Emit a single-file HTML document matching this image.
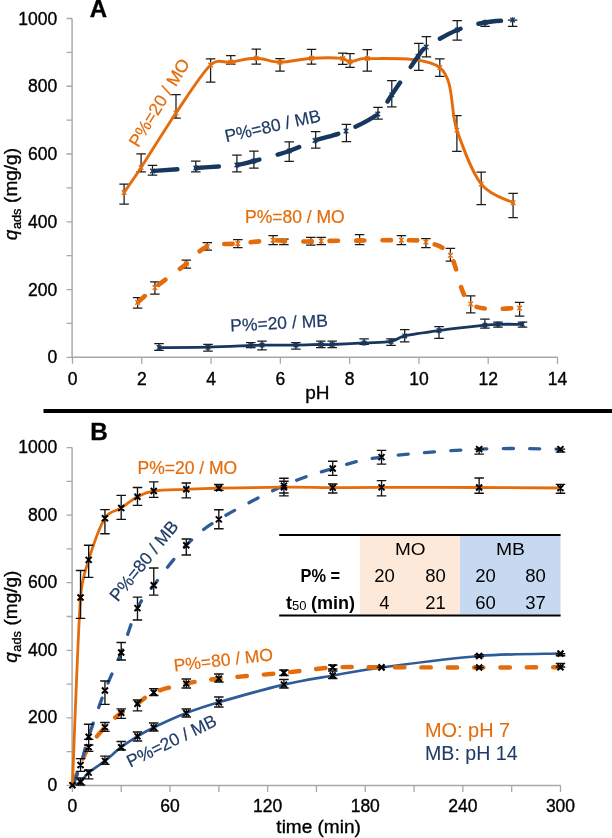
<!DOCTYPE html>
<html><head><meta charset="utf-8"><style>
html,body{margin:0;padding:0;background:#fff;width:612px;height:838px;overflow:hidden}
svg{display:block;will-change:transform}
text{font-family:"Liberation Sans", sans-serif}
</style></head><body>
<svg width="612" height="838" viewBox="0 0 612 838">
<rect width="612" height="838" fill="#fff"/>
<path d="M72.1,18.5V357.3H557.5" stroke="#A8A8A8" stroke-width="1.45" fill="none"/>
<path d="M66.6,357.30H72.1M66.6,323.42H72.1M66.6,289.54H72.1M66.6,255.66H72.1M66.6,221.78H72.1M66.6,187.90H72.1M66.6,154.02H72.1M66.6,120.14H72.1M66.6,86.26H72.1M66.6,52.38H72.1M66.6,18.50H72.1M72.50,357.3V363.8M141.79,357.3V363.8M211.07,357.3V363.8M280.36,357.3V363.8M349.64,357.3V363.8M418.93,357.3V363.8M488.21,357.3V363.8M557.50,357.3V363.8" stroke="#A8A8A8" stroke-width="1.3" fill="none"/>
<text x="57.30" y="363.40" font-size="17.50" fill="#000" stroke="#000" stroke-width="0.35" text-anchor="end" font-weight="normal">0</text>
<text x="57.30" y="295.64" font-size="17.50" fill="#000" stroke="#000" stroke-width="0.35" text-anchor="end" font-weight="normal">200</text>
<text x="57.30" y="227.88" font-size="17.50" fill="#000" stroke="#000" stroke-width="0.35" text-anchor="end" font-weight="normal">400</text>
<text x="57.30" y="160.12" font-size="17.50" fill="#000" stroke="#000" stroke-width="0.35" text-anchor="end" font-weight="normal">600</text>
<text x="57.30" y="92.36" font-size="17.50" fill="#000" stroke="#000" stroke-width="0.35" text-anchor="end" font-weight="normal">800</text>
<text x="57.30" y="24.60" font-size="17.50" fill="#000" stroke="#000" stroke-width="0.35" text-anchor="end" font-weight="normal">1000</text>
<text x="72.50" y="384.50" font-size="17.50" fill="#000" stroke="#000" stroke-width="0.35" text-anchor="middle" font-weight="normal">0</text>
<text x="141.79" y="384.50" font-size="17.50" fill="#000" stroke="#000" stroke-width="0.35" text-anchor="middle" font-weight="normal">2</text>
<text x="211.07" y="384.50" font-size="17.50" fill="#000" stroke="#000" stroke-width="0.35" text-anchor="middle" font-weight="normal">4</text>
<text x="280.36" y="384.50" font-size="17.50" fill="#000" stroke="#000" stroke-width="0.35" text-anchor="middle" font-weight="normal">6</text>
<text x="349.64" y="384.50" font-size="17.50" fill="#000" stroke="#000" stroke-width="0.35" text-anchor="middle" font-weight="normal">8</text>
<text x="418.93" y="384.50" font-size="17.50" fill="#000" stroke="#000" stroke-width="0.35" text-anchor="middle" font-weight="normal">10</text>
<text x="488.21" y="384.50" font-size="17.50" fill="#000" stroke="#000" stroke-width="0.35" text-anchor="middle" font-weight="normal">12</text>
<text x="557.50" y="384.50" font-size="17.50" fill="#000" stroke="#000" stroke-width="0.35" text-anchor="middle" font-weight="normal">14</text>
<text x="317.30" y="399.30" font-size="19.00" fill="#000" stroke="#000" stroke-width="0.35" text-anchor="middle" font-weight="normal">pH</text>
<text x="98.40" y="16.80" font-size="24.00" fill="#000" stroke="#000" stroke-width="0.35" text-anchor="middle" font-weight="bold">A</text>
<text transform="translate(17.1 240.2) rotate(-90)" font-size="19" fill="#000" stroke="#000" stroke-width="0.35"><tspan font-style="italic">q</tspan><tspan font-size="12.8" dy="3.5" dx="0.5">ads</tspan><tspan dy="-3.5" dx="0.3"> (mg/g)</tspan></text>
<path d="M124.10,184.00V204.00M119.35,184.00H128.85M119.35,204.00H128.85M141.10,153.90V171.90M136.35,153.90H145.85M136.35,171.90H145.85M176.00,94.50V118.00M171.25,94.50H180.75M171.25,118.00H180.75M210.60,58.80V82.20M205.85,58.80H215.35M205.85,82.20H215.35M230.80,55.70V64.00M226.05,55.70H235.55M226.05,64.00H235.55M256.30,49.20V64.10M251.55,49.20H261.05M251.55,64.10H261.05M280.00,58.60V71.00M275.25,58.60H284.75M275.25,71.00H284.75M311.50,49.40V64.20M306.75,49.40H316.25M306.75,64.20H316.25M342.70,53.10V64.30M337.95,53.10H347.45M337.95,64.30H347.45M350.00,53.50V67.30M345.25,53.50H354.75M345.25,67.30H354.75M367.30,49.60V71.20M362.55,49.60H372.05M362.55,71.20H372.05M439.80,58.80V76.30M435.05,58.80H444.55M435.05,76.30H444.55M456.90,115.50V151.40M452.15,115.50H461.65M452.15,151.40H461.65M481.20,172.00V204.70M476.45,172.00H485.95M476.45,204.70H485.95M513.10,193.30V217.50M508.35,193.30H517.85M508.35,217.50H517.85M152.50,165.30V175.10M147.75,165.30H157.25M147.75,175.10H157.25M195.80,161.20V171.90M191.05,161.20H200.55M191.05,171.90H200.55M236.90,155.10V171.80M232.15,155.10H241.65M232.15,171.80H241.65M253.90,151.20V168.20M249.15,151.20H258.65M249.15,168.20H258.65M289.20,141.80V161.40M284.45,141.80H293.95M284.45,161.40H293.95M315.70,131.60V148.00M310.95,131.60H320.45M310.95,148.00H320.45M346.40,124.30V141.60M341.65,124.30H351.15M341.65,141.60H351.15M378.00,107.30V119.00M373.25,107.30H382.75M373.25,119.00H382.75M391.80,80.60V106.90M387.05,80.60H396.55M387.05,106.90H396.55M418.80,43.40V70.30M414.05,43.40H423.55M414.05,70.30H423.55M426.40,36.60V56.90M421.65,36.60H431.15M421.65,56.90H431.15M457.20,20.60V40.00M452.45,20.60H461.95M452.45,40.00H461.95M485.10,22.50V26.30M480.35,22.50H489.85M480.35,26.30H489.85M512.60,20.10V26.30M507.85,20.10H517.35M507.85,26.30H517.35M137.60,297.50V308.20M132.85,297.50H142.35M132.85,308.20H142.35M154.90,281.80V294.10M150.15,281.80H159.65M150.15,294.10H159.65M186.30,260.20V268.00M181.55,260.20H191.05M181.55,268.00H191.05M207.30,242.50V250.00M202.55,242.50H212.05M202.55,250.00H212.05M237.80,239.60V247.50M233.05,239.60H242.55M233.05,247.50H242.55M273.10,235.70V244.50M268.35,235.70H277.85M268.35,244.50H277.85M283.90,239.00V244.50M279.15,239.00H288.65M279.15,244.50H288.65M310.80,237.30V245.10M306.05,237.30H315.55M306.05,245.10H315.55M321.20,237.30V244.50M316.45,237.30H325.95M316.45,244.50H325.95M359.60,234.70V244.50M354.85,234.70H364.35M354.85,244.50H364.35M401.40,235.70V244.50M396.65,235.70H406.15M396.65,244.50H406.15M425.90,238.60V247.50M421.15,238.60H430.65M421.15,247.50H430.65M450.40,248.40V261.20M445.65,248.40H455.15M445.65,261.20H455.15M470.70,295.80V312.90M465.95,295.80H475.45M465.95,312.90H475.45M519.60,302.30V316.20M514.85,302.30H524.35M514.85,316.20H524.35M159.00,343.60V350.40M154.25,343.60H163.75M154.25,350.40H163.75M208.00,344.40V351.20M203.25,344.40H212.75M203.25,351.20H212.75M250.80,342.50V347.50M246.05,342.50H255.55M246.05,347.50H255.55M262.00,341.20V349.80M257.25,341.20H266.75M257.25,349.80H266.75M295.90,342.50V349.00M291.15,342.50H300.65M291.15,349.00H300.65M320.80,341.20V347.50M316.05,341.20H325.55M316.05,347.50H325.55M332.20,341.20V347.50M327.45,341.20H336.95M327.45,347.50H336.95M364.10,338.80V344.30M359.35,338.80H368.85M359.35,344.30H368.85M391.00,338.80V345.30M386.25,338.80H395.75M386.25,345.30H395.75M404.70,329.60V341.80M399.95,329.60H409.45M399.95,341.80H409.45M439.00,326.70V338.40M434.25,326.70H443.75M434.25,338.40H443.75M484.90,319.00V328.10M480.15,319.00H489.65M480.15,328.10H489.65M498.00,322.00V327.00M493.25,322.00H502.75M493.25,327.00H502.75M522.50,322.00V327.00M517.75,322.00H527.25M517.75,327.00H527.25" stroke="#1a1a1a" stroke-width="1.25" fill="none"/>
<path d="M159.00,347.60 C167.17,347.53 192.70,347.55 208.00,347.20 C223.30,346.85 241.80,345.85 250.80,345.50 C256.40,345.28 256.40,345.15 262.00,345.10 C269.52,345.03 286.10,345.20 295.90,345.10 C305.70,345.00 314.75,344.60 320.80,344.50 C326.50,344.41 326.50,344.71 332.20,344.50 C339.42,344.23 354.30,343.42 364.10,342.90 C373.90,342.38 384.23,342.57 391.00,341.40 C397.77,340.23 397.50,337.52 404.70,335.90 C412.70,334.10 425.63,332.38 439.00,330.60 C452.37,328.82 475.07,326.25 484.90,325.20 C491.43,324.50 491.73,324.45 498.00,324.30 C504.27,324.15 518.42,324.30 522.50,324.30" stroke="#17375E" stroke-width="2.80" fill="none" stroke-linejoin="round" stroke-linecap="round"/>
<path d="M137.60,302.40 C140.48,299.93 146.78,294.00 154.90,287.60 C163.02,281.20 177.57,270.85 186.30,264.00 C195.03,257.15 198.72,249.92 207.30,246.50 C215.88,243.08 226.83,244.55 237.80,243.50 C248.77,242.45 265.42,240.62 273.10,240.20 C278.51,239.91 278.49,240.81 283.90,241.00 C290.18,241.22 304.58,241.50 310.80,241.50 C316.01,241.50 315.99,241.10 321.20,241.00 C329.33,240.85 346.23,240.73 359.60,240.60 C372.97,240.47 390.35,239.97 401.40,240.20 C412.45,240.43 417.73,239.48 425.90,242.00 C434.07,244.52 442.93,244.98 450.40,255.30 C457.87,265.62 459.17,295.12 470.70,303.90 C482.23,312.68 511.45,307.32 519.60,308.00" stroke="#E46C0A" stroke-width="4.60" fill="none" stroke-linejoin="round" stroke-dasharray="8.4 18" stroke-dashoffset="-1.20" stroke-linecap="round"/>
<path d="M124.10,192.50 C126.93,188.33 132.84,180.16 141.10,167.50 C149.75,154.25 164.42,130.08 176.00,113.00 C187.58,95.92 201.47,73.50 210.60,65.00 C218.07,58.04 223.18,63.13 230.80,62.00 C238.42,60.87 248.10,58.17 256.30,58.20 C264.50,58.23 270.80,62.18 280.00,62.20 C289.20,62.22 301.05,58.93 311.50,58.30 C321.95,57.67 336.28,57.82 342.70,58.40 C346.71,58.76 345.97,61.80 350.00,61.80 C354.10,61.80 358.50,57.83 367.30,58.40 C382.27,59.37 424.87,55.63 439.80,67.60 C454.73,79.57 450.00,110.78 456.90,130.20 C463.80,149.62 471.83,172.02 481.20,184.10 C490.57,196.18 507.78,199.60 513.10,202.70" stroke="#E46C0A" stroke-width="2.90" fill="none" stroke-linejoin="round" stroke-linecap="round"/>
<path d="M152.50,171.00 C159.72,170.50 181.73,169.00 195.80,168.00 C209.87,167.00 227.22,166.17 236.90,165.00 C245.57,163.96 245.46,163.26 253.90,161.00 C262.62,158.67 279.02,154.42 289.20,151.00 C299.38,147.58 305.53,143.83 315.00,140.50 C324.47,137.17 335.53,135.42 346.00,131.00 C356.47,126.58 370.17,120.05 377.80,114.00 C385.43,107.95 385.10,104.30 391.80,94.70 C398.50,85.10 412.27,64.33 418.00,56.40 C421.63,51.38 421.06,50.56 426.20,47.10 C432.73,42.70 447.38,34.10 457.20,30.00 C467.02,25.90 475.87,24.15 485.10,22.50 C494.33,20.85 508.02,20.50 512.60,20.10" stroke="#17375E" stroke-width="4.40" fill="none" stroke-linejoin="round" stroke-dasharray="22.8 18.7" stroke-dashoffset="-2.20" stroke-linecap="round"/>
<path d="M121.80,190.20L126.40,194.80M121.80,194.80L126.40,190.20M124.10,189.60V195.40M138.80,165.20L143.40,169.80M138.80,169.80L143.40,165.20M141.10,164.60V170.40M173.70,110.70L178.30,115.30M173.70,115.30L178.30,110.70M176.00,110.10V115.90M208.30,62.70L212.90,67.30M208.30,67.30L212.90,62.70M210.60,62.10V67.90M228.50,59.70L233.10,64.30M228.50,64.30L233.10,59.70M230.80,59.10V64.90M254.00,55.90L258.60,60.50M254.00,60.50L258.60,55.90M256.30,55.30V61.10M277.70,59.90L282.30,64.50M277.70,64.50L282.30,59.90M280.00,59.30V65.10M309.20,56.00L313.80,60.60M309.20,60.60L313.80,56.00M311.50,55.40V61.20M340.40,56.10L345.00,60.70M340.40,60.70L345.00,56.10M342.70,55.50V61.30M347.70,59.50L352.30,64.10M347.70,64.10L352.30,59.50M350.00,58.90V64.70M365.00,56.10L369.60,60.70M365.00,60.70L369.60,56.10M367.30,55.50V61.30M437.50,65.30L442.10,69.90M437.50,69.90L442.10,65.30M439.80,64.70V70.50M454.60,127.90L459.20,132.50M454.60,132.50L459.20,127.90M456.90,127.30V133.10M478.90,181.80L483.50,186.40M478.90,186.40L483.50,181.80M481.20,181.20V187.00M510.80,200.40L515.40,205.00M510.80,205.00L515.40,200.40M513.10,199.80V205.60M135.30,300.10L139.90,304.70M135.30,304.70L139.90,300.10M137.60,299.50V305.30M152.60,285.30L157.20,289.90M152.60,289.90L157.20,285.30M154.90,284.70V290.50M184.00,261.70L188.60,266.30M184.00,266.30L188.60,261.70M186.30,261.10V266.90M205.00,244.20L209.60,248.80M205.00,248.80L209.60,244.20M207.30,243.60V249.40M235.50,241.20L240.10,245.80M235.50,245.80L240.10,241.20M237.80,240.60V246.40M270.80,237.90L275.40,242.50M270.80,242.50L275.40,237.90M273.10,237.30V243.10M281.60,238.70L286.20,243.30M281.60,243.30L286.20,238.70M283.90,238.10V243.90M308.50,239.20L313.10,243.80M308.50,243.80L313.10,239.20M310.80,238.60V244.40M318.90,238.70L323.50,243.30M318.90,243.30L323.50,238.70M321.20,238.10V243.90M357.30,238.30L361.90,242.90M357.30,242.90L361.90,238.30M359.60,237.70V243.50M399.10,237.90L403.70,242.50M399.10,242.50L403.70,237.90M401.40,237.30V243.10M423.60,239.70L428.20,244.30M423.60,244.30L428.20,239.70M425.90,239.10V244.90M448.10,253.00L452.70,257.60M448.10,257.60L452.70,253.00M450.40,252.40V258.20M468.40,301.60L473.00,306.20M468.40,306.20L473.00,301.60M470.70,301.00V306.80M517.30,305.70L521.90,310.30M517.30,310.30L521.90,305.70M519.60,305.10V310.90" stroke="#E46C0A" stroke-width="1.30" fill="none"/>
<path d="M150.20,168.70L154.80,173.30M150.20,173.30L154.80,168.70M152.50,168.10V173.90M193.50,165.70L198.10,170.30M193.50,170.30L198.10,165.70M195.80,165.10V170.90M234.60,162.70L239.20,167.30M234.60,167.30L239.20,162.70M236.90,162.10V167.90M251.60,158.70L256.20,163.30M251.60,163.30L256.20,158.70M253.90,158.10V163.90M286.90,148.70L291.50,153.30M286.90,153.30L291.50,148.70M289.20,148.10V153.90M312.70,138.20L317.30,142.80M312.70,142.80L317.30,138.20M315.00,137.60V143.40M343.70,128.70L348.30,133.30M343.70,133.30L348.30,128.70M346.00,128.10V133.90M375.50,111.70L380.10,116.30M375.50,116.30L380.10,111.70M377.80,111.10V116.90M389.50,92.40L394.10,97.00M389.50,97.00L394.10,92.40M391.80,91.80V97.60M415.70,54.10L420.30,58.70M415.70,58.70L420.30,54.10M418.00,53.50V59.30M423.90,44.80L428.50,49.40M423.90,49.40L428.50,44.80M426.20,44.20V50.00M454.90,27.70L459.50,32.30M454.90,32.30L459.50,27.70M457.20,27.10V32.90M482.80,20.20L487.40,24.80M482.80,24.80L487.40,20.20M485.10,19.60V25.40M510.30,17.80L514.90,22.40M510.30,22.40L514.90,17.80M512.60,17.20V23.00M156.70,345.30L161.30,349.90M156.70,349.90L161.30,345.30M159.00,344.70V350.50M205.70,344.90L210.30,349.50M205.70,349.50L210.30,344.90M208.00,344.30V350.10M248.50,343.20L253.10,347.80M248.50,347.80L253.10,343.20M250.80,342.60V348.40M259.70,342.80L264.30,347.40M259.70,347.40L264.30,342.80M262.00,342.20V348.00M293.60,342.80L298.20,347.40M293.60,347.40L298.20,342.80M295.90,342.20V348.00M318.50,342.20L323.10,346.80M318.50,346.80L323.10,342.20M320.80,341.60V347.40M329.90,342.20L334.50,346.80M329.90,346.80L334.50,342.20M332.20,341.60V347.40M361.80,340.60L366.40,345.20M361.80,345.20L366.40,340.60M364.10,340.00V345.80M388.70,339.10L393.30,343.70M388.70,343.70L393.30,339.10M391.00,338.50V344.30M402.40,333.60L407.00,338.20M402.40,338.20L407.00,333.60M404.70,333.00V338.80M436.70,328.30L441.30,332.90M436.70,332.90L441.30,328.30M439.00,327.70V333.50M482.60,322.90L487.20,327.50M482.60,327.50L487.20,322.90M484.90,322.30V328.10M495.70,322.00L500.30,326.60M495.70,326.60L500.30,322.00M498.00,321.40V327.20M520.20,322.00L524.80,326.60M520.20,326.60L524.80,322.00M522.50,321.40V327.20" stroke="#17375E" stroke-width="1.30" fill="none"/>
<text x="0.00" y="0.00" font-size="17.50" fill="#E46C0A" stroke="#E46C0A" stroke-width="0.20" text-anchor="start" font-weight="normal" transform="translate(138.2 148.3) rotate(-58.4)">P%=20 / MO</text>
<text x="0.00" y="0.00" font-size="17.50" fill="#1F3A66" stroke="#1F3A66" stroke-width="0.20" text-anchor="start" font-weight="normal" transform="translate(226.2 142.3) rotate(-12.5)">P%=80 / MB</text>
<text x="245.00" y="223.00" font-size="17.50" fill="#E46C0A" stroke="#E46C0A" stroke-width="0.20" text-anchor="start" font-weight="normal">P%=80 / MO</text>
<text x="0.00" y="0.00" font-size="17.50" fill="#1F3A66" stroke="#1F3A66" stroke-width="0.20" text-anchor="start" font-weight="normal" transform="translate(230.5 331.5) rotate(-3)">P%=20 / MB</text>
<rect x="43.5" y="409" width="569" height="4" fill="#000"/>
<path d="M72.1,447.6V785.4H560.5" stroke="#A8A8A8" stroke-width="1.45" fill="none"/>
<path d="M66.6,785.40H72.1M66.6,751.62H72.1M66.6,717.84H72.1M66.6,684.06H72.1M66.6,650.28H72.1M66.6,616.50H72.1M66.6,582.72H72.1M66.6,548.94H72.1M66.6,515.16H72.1M66.6,481.38H72.1M66.6,447.60H72.1M72.40,785.4V791.9M121.21,785.4V791.9M170.02,785.4V791.9M218.83,785.4V791.9M267.64,785.4V791.9M316.45,785.4V791.9M365.26,785.4V791.9M414.07,785.4V791.9M462.88,785.4V791.9M511.69,785.4V791.9M560.50,785.4V791.9" stroke="#A8A8A8" stroke-width="1.3" fill="none"/>
<text x="57.30" y="791.00" font-size="17.50" fill="#000" stroke="#000" stroke-width="0.35" text-anchor="end" font-weight="normal">0</text>
<text x="57.30" y="723.44" font-size="17.50" fill="#000" stroke="#000" stroke-width="0.35" text-anchor="end" font-weight="normal">200</text>
<text x="57.30" y="655.88" font-size="17.50" fill="#000" stroke="#000" stroke-width="0.35" text-anchor="end" font-weight="normal">400</text>
<text x="57.30" y="588.32" font-size="17.50" fill="#000" stroke="#000" stroke-width="0.35" text-anchor="end" font-weight="normal">600</text>
<text x="57.30" y="520.76" font-size="17.50" fill="#000" stroke="#000" stroke-width="0.35" text-anchor="end" font-weight="normal">800</text>
<text x="57.30" y="453.20" font-size="17.50" fill="#000" stroke="#000" stroke-width="0.35" text-anchor="end" font-weight="normal">1000</text>
<text x="72.40" y="811.50" font-size="17.50" fill="#000" stroke="#000" stroke-width="0.35" text-anchor="middle" font-weight="normal">0</text>
<text x="170.02" y="811.50" font-size="17.50" fill="#000" stroke="#000" stroke-width="0.35" text-anchor="middle" font-weight="normal">60</text>
<text x="267.64" y="811.50" font-size="17.50" fill="#000" stroke="#000" stroke-width="0.35" text-anchor="middle" font-weight="normal">120</text>
<text x="365.26" y="811.50" font-size="17.50" fill="#000" stroke="#000" stroke-width="0.35" text-anchor="middle" font-weight="normal">180</text>
<text x="462.88" y="811.50" font-size="17.50" fill="#000" stroke="#000" stroke-width="0.35" text-anchor="middle" font-weight="normal">240</text>
<text x="560.50" y="811.50" font-size="17.50" fill="#000" stroke="#000" stroke-width="0.35" text-anchor="middle" font-weight="normal">300</text>
<text x="318.60" y="833.30" font-size="19.00" fill="#000" stroke="#000" stroke-width="0.35" text-anchor="middle" font-weight="normal">time (min)</text>
<text x="99.10" y="440.20" font-size="24.30" fill="#000" stroke="#000" stroke-width="0.35" text-anchor="middle" font-weight="bold">B</text>
<text transform="translate(17.0 662.8) rotate(-90)" font-size="19" fill="#000" stroke="#000" stroke-width="0.35"><tspan font-style="italic">q</tspan><tspan font-size="12.8" dy="3.5" dx="0.5">ads</tspan><tspan dy="-3.5" dx="0.3"> (mg/g)</tspan></text>
<path d="M72.40,785.30 C73.76,784.72 77.82,783.92 80.54,781.80 C83.25,779.68 84.60,776.08 88.67,772.60 C92.74,769.12 99.52,765.13 104.94,760.90 C110.36,756.67 115.79,751.28 121.21,747.20 C126.63,743.12 132.06,739.68 137.48,736.40 C142.90,733.12 145.62,731.38 153.75,727.50 C161.88,723.62 175.44,717.30 186.29,713.10 C197.14,708.90 202.56,707.05 218.83,702.30 C235.10,697.55 264.93,689.07 283.91,684.60 C302.89,680.13 316.45,678.35 332.72,675.50 C348.99,672.65 357.12,670.75 381.53,667.50 C405.93,664.25 449.32,658.33 479.15,656.00 C508.98,653.67 546.94,653.92 560.50,653.50" stroke="#2F5C98" stroke-width="2.70" fill="none" stroke-linejoin="round" stroke-linecap="round"/>
<path d="M72.40,785.30 C73.76,781.92 77.82,771.35 80.54,765.00 C83.25,758.65 84.60,753.48 88.67,747.20 C92.74,740.92 99.52,733.03 104.94,727.30 C110.36,721.57 115.79,716.73 121.21,712.80 C126.63,708.87 132.06,707.08 137.48,703.70 C142.90,700.32 145.62,695.85 153.75,692.50 C161.88,689.15 175.44,685.92 186.29,683.60 C197.14,681.28 202.56,680.40 218.83,678.60 C235.10,676.80 264.93,674.65 283.91,672.80 C302.89,670.95 316.45,668.42 332.72,667.50 C348.99,666.58 357.12,667.30 381.53,667.30 C405.93,667.30 449.32,667.52 479.15,667.50 C508.98,667.48 546.94,667.25 560.50,667.20" stroke="#E46C0A" stroke-width="4.40" fill="none" stroke-linejoin="round" stroke-dasharray="9.4 16.93" stroke-dashoffset="-2.37" stroke-linecap="round"/>
<path d="M72.40,785.30 C73.76,781.92 77.82,773.08 80.54,765.00 C83.25,756.92 84.60,749.22 88.67,736.80 C92.74,724.38 99.52,704.55 104.94,690.50 C110.36,676.45 115.79,666.23 121.21,652.50 C126.63,638.77 132.06,619.32 137.48,608.10 C142.90,596.88 145.62,595.68 153.75,585.20 C161.88,574.72 175.44,556.17 186.29,545.20 C197.14,534.23 202.56,529.33 218.83,519.40 C235.10,509.47 264.93,494.08 283.91,485.60 C302.89,477.12 316.45,473.25 332.72,468.50 C348.99,463.75 357.12,460.33 381.53,457.10 C405.93,453.87 449.32,450.43 479.15,449.10 C508.98,447.77 546.94,449.10 560.50,449.10" stroke="#2F5C98" stroke-width="3.30" fill="none" stroke-linejoin="round" stroke-dasharray="10 16.29" stroke-dashoffset="-3.15" stroke-linecap="round"/>
<path d="M72.40,785.30 C73.76,754.00 77.82,635.07 80.54,597.50 C81.92,578.31 84.60,573.12 88.67,559.90 C92.74,546.68 99.52,526.85 104.94,518.20 C110.04,510.07 115.79,511.58 121.21,508.00 C126.63,504.42 132.06,499.53 137.48,496.70 C142.90,493.87 145.62,492.23 153.75,491.00 C161.88,489.77 175.44,489.77 186.29,489.30 C197.14,488.83 202.56,488.55 218.83,488.20 C235.10,487.85 264.93,487.30 283.91,487.20 C302.89,487.10 316.45,487.57 332.72,487.60 C348.99,487.63 357.12,487.42 381.53,487.40 C405.93,487.38 449.32,487.40 479.15,487.50 C508.98,487.60 546.94,487.92 560.50,488.00" stroke="#E46C0A" stroke-width="2.80" fill="none" stroke-linejoin="round" stroke-linecap="round"/>
<path d="M80.54,570.50V618.40M75.79,570.50H85.29M75.79,618.40H85.29M88.67,545.20V577.30M83.92,545.20H93.42M83.92,577.30H93.42M104.94,509.60V533.70M100.19,509.60H109.69M100.19,533.70H109.69M121.21,495.30V519.40M116.46,495.30H125.96M116.46,519.40H125.96M137.48,487.50V505.30M132.73,487.50H142.23M132.73,505.30H142.23M153.75,481.80V497.30M149.00,481.80H158.50M149.00,497.30H158.50M186.29,483.00V497.80M181.54,483.00H191.04M181.54,497.80H191.04M218.83,484.50V490.30M214.08,484.50H223.58M214.08,490.30H223.58M283.91,478.20V495.90M279.16,478.20H288.66M279.16,495.90H288.66M332.72,484.00V493.00M327.97,484.00H337.47M327.97,493.00H337.47M381.53,480.60V495.90M376.78,480.60H386.28M376.78,495.90H386.28M479.15,478.00V493.20M474.40,478.00H483.90M474.40,493.20H483.90M560.50,484.40V493.20M555.75,484.40H565.25M555.75,493.20H565.25M80.54,758.60V771.40M75.79,758.60H85.29M75.79,771.40H85.29M88.67,724.20V745.00M83.92,724.20H93.42M83.92,745.00H93.42M104.94,681.00V704.40M100.19,681.00H109.69M100.19,704.40H109.69M121.21,642.50V660.00M116.46,642.50H125.96M116.46,660.00H125.96M137.48,597.10V620.00M132.73,597.10H142.23M132.73,620.00H142.23M153.75,568.00V595.10M149.00,568.00H158.50M149.00,595.10H158.50M186.29,539.00V555.00M181.54,539.00H191.04M181.54,555.00H191.04M218.83,509.70V528.70M214.08,509.70H223.58M214.08,528.70H223.58M283.91,481.20V493.00M279.16,481.20H288.66M279.16,493.00H288.66M332.72,461.20V475.30M327.97,461.20H337.47M327.97,475.30H337.47M381.53,450.30V464.10M376.78,450.30H386.28M376.78,464.10H386.28M479.15,449.10V454.10M474.40,449.10H483.90M474.40,454.10H483.90M560.50,449.10V452.10M555.75,449.10H565.25M555.75,452.10H565.25M80.54,758.60V771.40M75.79,758.60H85.29M75.79,771.40H85.29M88.67,739.40V751.30M83.92,739.40H93.42M83.92,751.30H93.42M104.94,722.50V731.40M100.19,722.50H109.69M100.19,731.40H109.69M121.21,708.80V718.40M116.46,708.80H125.96M116.46,718.40H125.96M137.48,700.00V710.80M132.73,700.00H142.23M132.73,710.80H142.23M153.75,688.60V695.50M149.00,688.60H158.50M149.00,695.50H158.50M186.29,679.00V688.00M181.54,679.00H191.04M181.54,688.00H191.04M218.83,674.00V682.00M214.08,674.00H223.58M214.08,682.00H223.58M283.91,670.00V675.50M279.16,670.00H288.66M279.16,675.50H288.66M332.72,665.00V669.00M327.97,665.00H337.47M327.97,669.00H337.47M381.53,667.20V667.20M376.78,667.20H386.28M376.78,667.20H386.28M479.15,667.50V667.50M474.40,667.50H483.90M474.40,667.50H483.90M560.50,663.50V667.00M555.75,663.50H565.25M555.75,667.00H565.25M80.54,778.00V785.00M75.79,778.00H85.29M75.79,785.00H85.29M88.67,770.00V778.90M83.92,770.00H93.42M83.92,778.90H93.42M104.94,756.10V764.40M100.19,756.10H109.69M100.19,764.40H109.69M121.21,741.50V750.00M116.46,741.50H125.96M116.46,750.00H125.96M137.48,732.00V741.00M132.73,732.00H142.23M132.73,741.00H142.23M153.75,723.00V731.00M149.00,723.00H158.50M149.00,731.00H158.50M186.29,709.00V717.00M181.54,709.00H191.04M181.54,717.00H191.04M218.83,697.00V707.00M214.08,697.00H223.58M214.08,707.00H223.58M283.91,679.50V688.00M279.16,679.50H288.66M279.16,688.00H288.66M332.72,671.00V678.50M327.97,671.00H337.47M327.97,678.50H337.47M381.53,667.20V667.20M376.78,667.20H386.28M376.78,667.20H386.28M479.15,654.70V656.70M474.40,654.70H483.90M474.40,656.70H483.90M560.50,653.70V655.70M555.75,653.70H565.25M555.75,655.70H565.25" stroke="#111" stroke-width="1.35" fill="none"/>
<path d="M69.40,782.30L75.40,788.30M69.40,788.30L75.40,782.30M77.54,594.50L83.54,600.50M77.54,600.50L83.54,594.50M85.67,556.90L91.67,562.90M85.67,562.90L91.67,556.90M101.94,515.20L107.94,521.20M101.94,521.20L107.94,515.20M118.21,505.00L124.21,511.00M118.21,511.00L124.21,505.00M134.48,493.70L140.48,499.70M134.48,499.70L140.48,493.70M150.75,488.00L156.75,494.00M150.75,494.00L156.75,488.00M183.29,486.30L189.29,492.30M183.29,492.30L189.29,486.30M215.83,485.20L221.83,491.20M215.83,491.20L221.83,485.20M280.91,484.20L286.91,490.20M280.91,490.20L286.91,484.20M329.72,484.60L335.72,490.60M329.72,490.60L335.72,484.60M378.53,484.40L384.53,490.40M378.53,490.40L384.53,484.40M476.15,484.50L482.15,490.50M476.15,490.50L482.15,484.50M557.50,485.00L563.50,491.00M557.50,491.00L563.50,485.00M69.40,782.30L75.40,788.30M69.40,788.30L75.40,782.30M77.54,762.00L83.54,768.00M77.54,768.00L83.54,762.00M85.67,733.80L91.67,739.80M85.67,739.80L91.67,733.80M101.94,687.50L107.94,693.50M101.94,693.50L107.94,687.50M118.21,649.50L124.21,655.50M118.21,655.50L124.21,649.50M134.48,605.10L140.48,611.10M134.48,611.10L140.48,605.10M150.75,582.20L156.75,588.20M150.75,588.20L156.75,582.20M183.29,542.20L189.29,548.20M183.29,548.20L189.29,542.20M215.83,516.40L221.83,522.40M215.83,522.40L221.83,516.40M280.91,482.60L286.91,488.60M280.91,488.60L286.91,482.60M329.72,465.50L335.72,471.50M329.72,471.50L335.72,465.50M378.53,454.10L384.53,460.10M378.53,460.10L384.53,454.10M476.15,446.10L482.15,452.10M476.15,452.10L482.15,446.10M557.50,446.10L563.50,452.10M557.50,452.10L563.50,446.10M69.40,782.30L75.40,788.30M69.40,788.30L75.40,782.30M77.54,762.00L83.54,768.00M77.54,768.00L83.54,762.00M85.67,744.20L91.67,750.20M85.67,750.20L91.67,744.20M101.94,724.30L107.94,730.30M101.94,730.30L107.94,724.30M118.21,709.80L124.21,715.80M118.21,715.80L124.21,709.80M134.48,700.70L140.48,706.70M134.48,706.70L140.48,700.70M150.75,689.50L156.75,695.50M150.75,695.50L156.75,689.50M183.29,680.60L189.29,686.60M183.29,686.60L189.29,680.60M215.83,675.60L221.83,681.60M215.83,681.60L221.83,675.60M280.91,669.80L286.91,675.80M280.91,675.80L286.91,669.80M329.72,664.50L335.72,670.50M329.72,670.50L335.72,664.50M378.53,664.30L384.53,670.30M378.53,670.30L384.53,664.30M476.15,664.50L482.15,670.50M476.15,670.50L482.15,664.50M557.50,664.20L563.50,670.20M557.50,670.20L563.50,664.20M69.40,782.30L75.40,788.30M69.40,788.30L75.40,782.30M77.54,778.80L83.54,784.80M77.54,784.80L83.54,778.80M85.67,769.60L91.67,775.60M85.67,775.60L91.67,769.60M101.94,757.90L107.94,763.90M101.94,763.90L107.94,757.90M118.21,744.20L124.21,750.20M118.21,750.20L124.21,744.20M134.48,733.40L140.48,739.40M134.48,739.40L140.48,733.40M150.75,724.50L156.75,730.50M150.75,730.50L156.75,724.50M183.29,710.10L189.29,716.10M183.29,716.10L189.29,710.10M215.83,699.30L221.83,705.30M215.83,705.30L221.83,699.30M280.91,681.60L286.91,687.60M280.91,687.60L286.91,681.60M329.72,672.50L335.72,678.50M329.72,678.50L335.72,672.50M378.53,664.50L384.53,670.50M378.53,670.50L384.53,664.50M476.15,653.00L482.15,659.00M476.15,659.00L482.15,653.00M557.50,650.50L563.50,656.50M557.50,656.50L563.50,650.50" stroke="#000" stroke-width="2.00" fill="none"/>
<text x="137.50" y="473.70" font-size="17.50" fill="#E46C0A" stroke="#E46C0A" stroke-width="0.20" text-anchor="start" font-weight="normal">P%=20 / MO</text>
<text x="0.00" y="0.00" font-size="17.50" fill="#1F3A66" stroke="#1F3A66" stroke-width="0.20" text-anchor="start" font-weight="normal" transform="translate(117.8 602.6) rotate(-51)">P%=80 / MB</text>
<text x="0.00" y="0.00" font-size="17.50" fill="#E46C0A" stroke="#E46C0A" stroke-width="0.20" text-anchor="start" font-weight="normal" transform="translate(174.5 671.5) rotate(-6.5)">P%=80 / MO</text>
<text x="0.00" y="0.00" font-size="17.50" fill="#1F3A66" stroke="#1F3A66" stroke-width="0.20" text-anchor="start" font-weight="normal" transform="translate(130.2 767.8) rotate(-26)">P%=20 / MB</text>
<text x="425.00" y="736.70" font-size="19.90" fill="#E46C0A" stroke="#E46C0A" stroke-width="0.05" text-anchor="start" font-weight="normal">MO: pH 7</text>
<text x="425.00" y="760.20" font-size="19.60" fill="#1F3A66" stroke="#1F3A66" stroke-width="0.05" text-anchor="start" font-weight="normal">MB: pH 14</text>
<rect x="360" y="536" width="100" height="78.5" fill="#FDE9D9"/>
<rect x="460" y="536" width="100.5" height="78.5" fill="#C6D9F1"/>
<rect x="279.2" y="534" width="281.4" height="2" fill="#000"/>
<rect x="279.2" y="614.5" width="281.4" height="2" fill="#000"/>
<text x="395.00" y="554.80" font-size="17.30" fill="#000" stroke="#000" stroke-width="0.00" text-anchor="start" font-weight="normal" textLength="30.6" lengthAdjust="spacingAndGlyphs">MO</text>
<text x="496.00" y="554.80" font-size="17.30" fill="#000" stroke="#000" stroke-width="0.00" text-anchor="start" font-weight="normal" textLength="29" lengthAdjust="spacingAndGlyphs">MB</text>
<text x="384.50" y="582.00" font-size="18.50" fill="#000" stroke="#000" stroke-width="0.00" text-anchor="middle" font-weight="normal">20</text>
<text x="384.50" y="608.70" font-size="18.50" fill="#000" stroke="#000" stroke-width="0.00" text-anchor="middle" font-weight="normal">4</text>
<text x="435.50" y="582.00" font-size="18.50" fill="#000" stroke="#000" stroke-width="0.00" text-anchor="middle" font-weight="normal">80</text>
<text x="435.50" y="608.70" font-size="18.50" fill="#000" stroke="#000" stroke-width="0.00" text-anchor="middle" font-weight="normal">21</text>
<text x="485.60" y="582.00" font-size="18.50" fill="#000" stroke="#000" stroke-width="0.00" text-anchor="middle" font-weight="normal">20</text>
<text x="485.60" y="608.70" font-size="18.50" fill="#000" stroke="#000" stroke-width="0.00" text-anchor="middle" font-weight="normal">60</text>
<text x="535.50" y="582.00" font-size="18.50" fill="#000" stroke="#000" stroke-width="0.00" text-anchor="middle" font-weight="normal">80</text>
<text x="535.50" y="608.70" font-size="18.50" fill="#000" stroke="#000" stroke-width="0.00" text-anchor="middle" font-weight="normal">37</text>
<text x="300.6" y="581.6" font-size="18.3" font-weight="bold" fill="#000" textLength="39.6" lengthAdjust="spacingAndGlyphs">P% =</text>
<text x="286" y="609.3" font-size="18" font-weight="bold" fill="#000">t<tspan font-size="13" font-weight="normal" dy="0.5">50</tspan><tspan dy="-0.5" dx="-0.5"> (min)</tspan></text>
</svg>
</body></html>
